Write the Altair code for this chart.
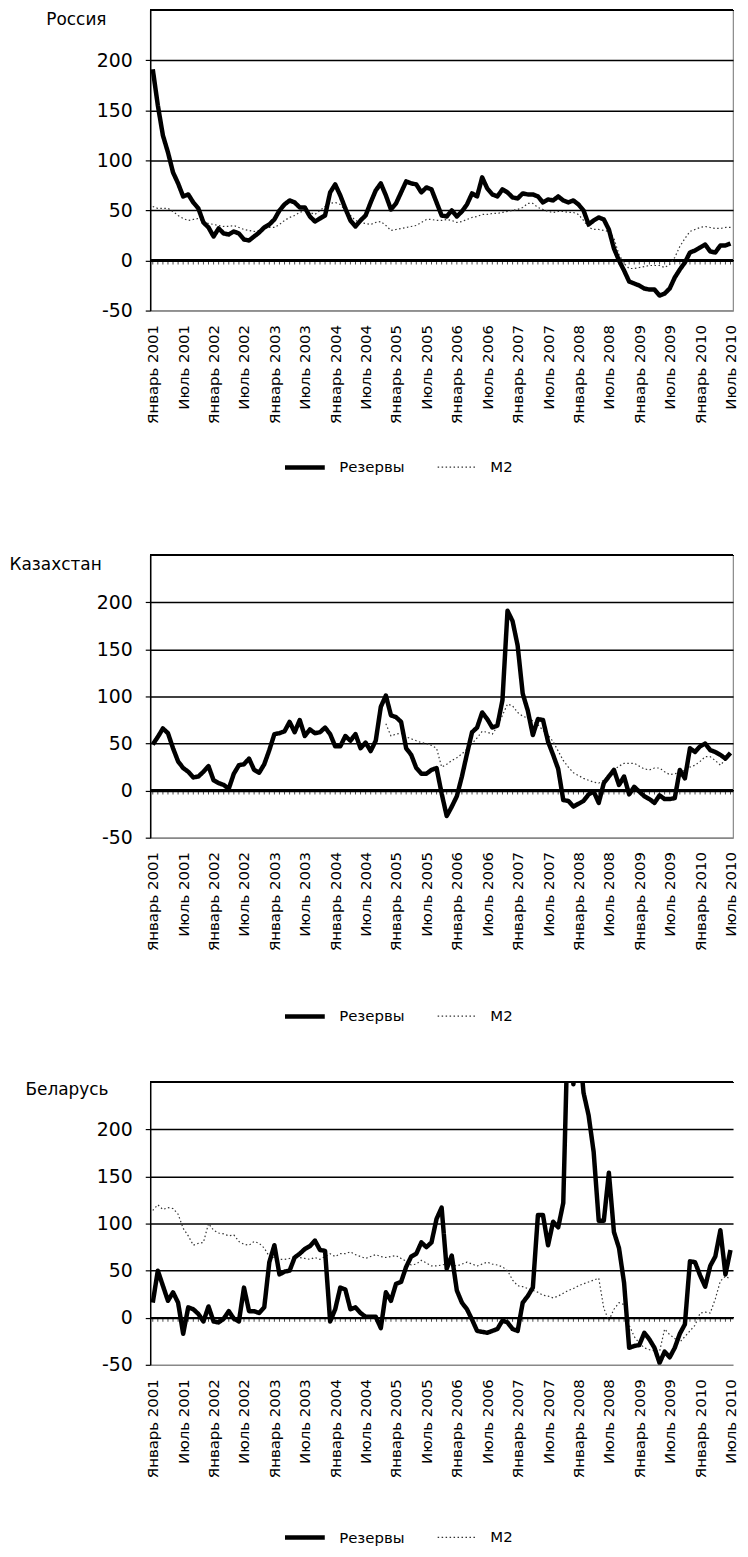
import altair as alt
import pandas as pd

month_names = ["Январь", "Февраль", "Март", "Апрель", "Май", "Июнь",
               "Июль", "Август", "Сентябрь", "Октябрь", "Ноябрь", "Декабрь"]
N = 115
months = [f"{month_names[i % 12]} {2001 + i // 12}" for i in range(N)]
tick_labels = [m for m in months if m.startswith("Январь") or m.startswith("Июль")]
SERIES = ["Резервы", "M2"]
y_ticks = [-50, 0, 50, 100, 150, 200]
y_top = 250
NA = None

russia_res = [191, 155, 125, 108, 88, 77, 64, 66, 58, 52,
              38, 33, 24, 32, 27, 26, 29, 27, 21, 20,
              24, 28, 33, 36, 41, 50, 56, 60, 58, 53,
              53, 44, 39, 42, 45, 68, 76, 65, 52, 40,
              34, 40, 45, 58, 70, 77, 65, 51, 57, 68,
              79, 77, 76, 68, 73, 71, 58, 45, 44, 50,
              44, 49, 56, 67, 64, 83, 72, 66, 64, 71,
              68, 63, 62, 67, 66, 66, 64, 58, 61, 60,
              64, 60, 58, 60, 56, 50, 36, 40, 43, 41,
              31, 12, 0, -10, -21, -23, -25, -28, -29, -29,
              -35, -33, -28, -17, -9, -2, 8, 10, 13, 16,
              9, 8, 15, 15, 17]
russia_m2 = [54, 52, 52, 52, 49, 45, 42, 40, 41, 42,
             39, 37, 36, 35, 34, 34, 35, 33, 31, 30,
             29, 30, 32, 33, 33, 36, 40, 43, 45, 48,
             50, 48, 46, 50, 54, 57, 58, 56, 50, 45,
             40, 38, 37, 36, 38, 39, 35, 30, 31, 32,
             33, 34, 35, 38, 41, 41, 40, 40, 41, 40,
             38, 39, 41, 43, 44, 46, 46, 47, 47, 48,
             49, 50, 51, 53, 57, 57, 53, 51, 49, 48,
             49, 49, 48, 48, 46, 40, 33, 31, 31, 30,
             29, 22, 6, -3, -8, -8, -7, -6, -5, -5,
             -5, -7, -4, 3, 14, 22, 29, 31, 33, 34,
             33, 32, 32, 33, 33]

kaz_res = [49, 57, 66, 61, 45, 31, 24, 20, 14, 15,
           20, 26, 11, 8, 6, 2, 18, 27, 28, 34,
           22, 19, 28, 43, 60, 61, 63, 73, 62, 75,
           58, 65, 61, 62, 67, 60, 47, 47, 58, 53,
           60, 45, 51, 42, 53, 89, 101, 80, 78, 73,
           45, 38, 24, 18, 18, 22, 24, -3, -27, -17,
           -6, 15, 39, 62, 67, 83, 76, 67, 69, 96,
           191, 180, 154, 103, 85, 59, 76, 75, 52, 38,
           23, -10, -11, -17, -14, -11, -4, -1, -13, 8,
           15, 22, 6, 15, -4, 4, -1, -6, -9, -13,
           -5, -9, -9, -8, 22, 13, 45, 41, 47, 50,
           43, 41, 38, 34, 40]
kaz_m2 = [NA] * 46 + [
           71, 58, 60, 61,
           57, 55, 53, 51, 50, 48, 45, 25, 28, 32,
           35, 39, 44, 50, 56, 63, 62, 60, 68, 80,
           92, 90, 83, 79, 77, 74, 70, 64, 59, 52,
           42, 32, 25, 19, 16, 13, 11, 9, 8, 11,
           17, 22, 26, 29, 29, 29, 26, 23, 22, 24,
           24, 20, 17, 18, 19, 22, 25, 27, 31, 36,
           36, 32, 27, 33, 40]

bel_res = [16, 50, 34, 18, 27, 16, -17, 11, 9, 4,
           -4, 12, -4, -5, -1, 7, -1, -4, 32, 7,
           7, 5, 11, 59, 77, 46, 49, 50, 64, 68,
           73, 76, 82, 72, 71, -4, 9, 32, 30, 9,
           11, 5, 1, 1, 1, -11, 27, 18, 36, 38,
           54, 65, 68, 80, 75, 80, 105, 117, 52, 66,
           29, 16, 9, -2, -14, -15, -16, -14, -12, -3,
           -5, -12, -14, 16, 23, 32, 109, 109, 77, 102,
           96, 122, 330, 248, 300, 239, 215, 176, 103, 103,
           154, 91, 74, 37, -32, -30, -29, -16, -23, -32,
           -48, -36, -42, -32, -17, -7, 60, 59, 45, 33,
           55, 65, 93, 46, 72]
bel_m2 = [114, 120, 115, 117, 116, 110, 95, 87, 77, 79,
          80, 100, 93, 90, 89, 87, 88, 81, 78, 77,
          81, 79, 74, 65, 64, 62, 62, 63, 65, 64,
          63, 62, 64, 62, 65, 68, 65, 68, 68, 70,
          67, 65, 63, 65, 67, 65, 64, 65, 66, 63,
          60, 56, 57, 61, 58, 55, 55, 56, 57, 56,
          55, 57, 59, 57, 55, 57, 59, 57, 56, 54,
          50, 40, 34, 33, 31, 29, 27, 24, 23, 21,
          23, 26, 29, 31, 34, 36, 38, 40, 42, 10,
          -3, 9, 16, 14, -8, -20, -27, -32, -34, -35,
          -36, -12, -18, -22, -26, -20, -14, -8, 5, 6,
          5, 20, 39, 44, 41]

FONT = "DejaVu Sans"
WIDTH = 586


def panel(title, reserves, m2, height, title_x, title_y, legend_y, border):
    df = pd.DataFrame({
        "month": months * 2,
        "series": [SERIES[0]] * N + [SERIES[1]] * N,
        "value": reserves + m2,
    })
    base = alt.Chart(df)
    first = base.transform_filter(alt.datum.series == SERIES[0])
    x = alt.X("month:O", sort=months,
              scale=alt.Scale(type="point", padding=0.5),
              axis=alt.Axis(values=tick_labels, labelAngle=-90, ticks=False,
                            domain=False, grid=False, labelPadding=14,
                            labelFont=FONT, labelFontSize=15, labelColor="black",
                            labelOverlap=False, labelBound=False, title=None))
    yscale = alt.Scale(domain=[-50, y_top], nice=False)
    yaxis = alt.Axis(values=y_ticks,
                     labelExpr="datum.value < 0 ? '-' + abs(datum.value) : datum.label",
                     grid=True,
                     gridColor={"condition": {"test": "datum.value == -50", "value": "#888888"},
                                "value": "black"},
                     gridWidth=1.5, domainColor="black", domainWidth=1.5,
                     tickColor="black", tickSize=5, tickWidth=1.2, labelPadding=13,
                     labelFont=FONT, labelFontSize=19, labelColor="black",
                     title=title, titleAngle=0, titleX=title_x, titleY=title_y,
                     titleAlign="left", titleBaseline="middle", titleFont=FONT,
                     titleFontSize=17, titleFontWeight="normal", titleColor="black")
    leg = alt.Legend(title=None, orient="none", legendX=133, legendY=legend_y,
                     direction="horizontal", symbolType="stroke", symbolSize=1600,
                     labelFont=FONT, labelFontSize=15, labelColor="black",
                     labelOffset=12, columnPadding=30)
    enc = dict(
        x=x,
        y=alt.Y("value:Q", scale=yscale, axis=yaxis),
        color=alt.Color("series:N", scale=alt.Scale(domain=SERIES, range=["black", "#333333"]), legend=leg),
        strokeDash=alt.StrokeDash("series:N", scale=alt.Scale(domain=SERIES, range=[[1, 0], [1.5, 2.5]]), legend=leg),
        strokeWidth=alt.StrokeWidth("series:N", scale=alt.Scale(domain=SERIES, range=[4.5, 1.2]), legend=leg),
    )
    m2_line = base.transform_filter(alt.datum.series == SERIES[1]).mark_line(
        clip=True, strokeJoin="round").encode(**enc)
    res_line = first.mark_line(clip=True, strokeJoin="round").encode(**enc)
    zero = first.mark_rule(color="black", strokeWidth=1.5).encode(y=alt.datum(0))
    top = first.mark_rule(color="black", strokeWidth=1.5).encode(y=alt.datum(y_top))
    ticks = first.mark_tick(
        color="black", orient="vertical", size=4, thickness=1, yOffset=2).encode(
        x=alt.X("month:O", sort=months), y=alt.datum(0))
    return alt.layer(zero, top, ticks, m2_line, res_line).properties(
        width=WIDTH, height=height, view=alt.ViewBackground(stroke=border, strokeWidth=1.2))


p1 = panel("Россия", russia_res, russia_m2, 302, -105, 9, 437, "#888888")
p2 = panel("Казахстан", kaz_res, kaz_m2, 284, -142, 9, 441, "#888888")
p3 = panel("Беларусь", bel_res, bel_m2, 284, -126, 7, 435, "transparent")

chart = alt.vconcat(p1, p2, p3, spacing=246, bounds="flush").resolve_scale(
    color="independent", strokeDash="independent", strokeWidth="independent"
).properties(padding={"top": -4, "left": 0, "right": 0, "bottom": 0}).configure(font=FONT)

chart.save("out.html", embed_options={"renderer": "svg", "actions": False})
